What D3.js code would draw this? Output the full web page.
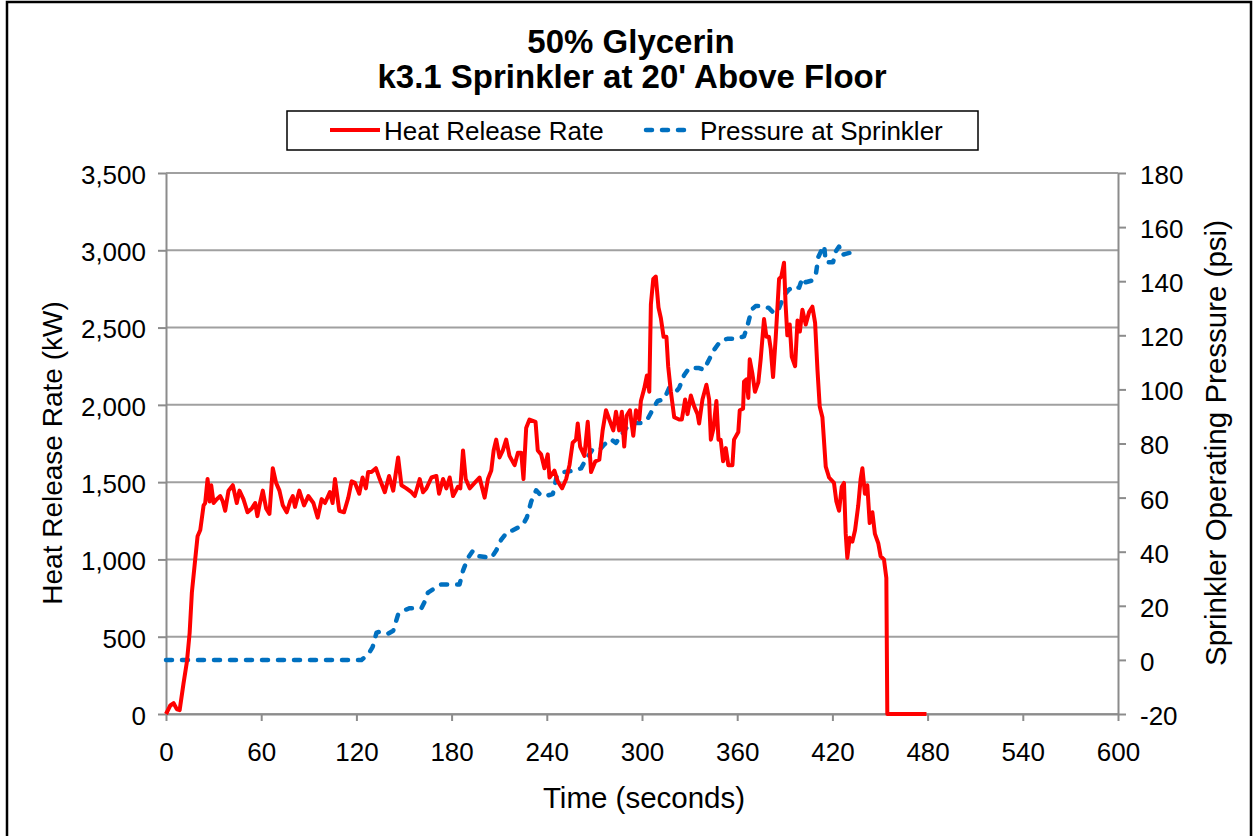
<!DOCTYPE html>
<html>
<head>
<meta charset="utf-8">
<title>50% Glycerin</title>
<script src="https://d3js.org/d3.v7.min.js"></script>
<style>
body {margin:0; background:#fff;}
svg text {font-family:"Liberation Sans", Arial, sans-serif; fill:#000;}
</style>
</head>
<body>
<svg width=1255 height=836></svg>
<script>
// heat release rate (kW) vs time (s)
var hrrTime = [0,2.7,4.8,6.9,8.6,11,13.2,14.9,16.3,18.4,19.9,21.6,23.7,24.7,26.2,27.5,28.5,30,32,34.2,35.8,37.3,39.4,42.1,44.6,46.3,48.8,51.4,54.1,56.2,57.6,58.9,61,63.1,65.2,67.3,69.4,71.5,73.6,76.1,78.2,79.9,81.3,84,87,89.7,92.9,95.6,98.1,100.2,103.3,105,106.5,109.2,112.2,114.9,117,119.1,121.8,123.9,126,127.4,129.5,132.3,134.7,137.9,140.6,143.2,146.3,148.4,151.5,154.7,156.8,159.9,162,164.1,167.3,170.4,172.1,174.6,176.7,178.8,180.9,184,185.5,187.2,188.9,191.4,194.5,197.6,200.8,202.9,205,206.5,208.1,210.2,212.3,214.4,216.5,219.7,221.8,223.9,225.3,227,229.1,232.9,234.3,236.4,238.5,240.6,241.7,244.8,246.9,249.6,252.2,254.3,256.3,258.4,259.5,261,263.7,265.8,267.9,270.6,273.1,275.2,277.3,279.4,281.9,283.6,285.6,287.3,288.8,290.3,292.4,294.5,296.2,298.3,299.3,301.4,303.1,304.6,305.6,307.1,308.7,310.4,311.9,313.6,315.4,316.5,318.2,320.3,323.4,325.1,327.2,328.7,330.8,332.9,335,336,338.1,340.6,342.3,343.4,345,346.9,348.2,349.6,351.1,352.8,354.4,357,358,360.7,361.6,363.7,364.3,365.8,367,367.9,369.6,371.2,373.3,374.8,376.9,378.4,380,381.1,382.6,384.3,386.4,387.8,389.5,390.5,391.6,393.1,394.4,396.5,398,399.5,401.1,403.2,405.3,407.4,409.1,410.6,412,413.7,415.8,417.9,421,422.5,424.2,425.9,427.3,428.4,429.4,430.9,432.6,434.3,436.3,437.8,438.9,440.5,442,443.5,445.2,446.8,448.9,450.4,452.5,454,454.6,479.3]
var hrrValue = [0,55,70,30,25,195,340,525,785,1000,1150,1190,1350,1365,1520,1375,1480,1365,1390,1410,1375,1315,1445,1480,1365,1445,1390,1305,1330,1365,1280,1350,1445,1330,1295,1590,1495,1445,1350,1305,1375,1410,1340,1445,1350,1410,1365,1270,1390,1365,1435,1365,1520,1315,1305,1400,1505,1495,1425,1530,1460,1565,1565,1590,1520,1435,1540,1445,1660,1480,1460,1435,1410,1520,1435,1460,1530,1540,1425,1520,1460,1530,1410,1470,1460,1705,1520,1460,1495,1530,1400,1520,1575,1705,1775,1660,1705,1775,1670,1610,1690,1690,1520,1850,1905,1890,1705,1680,1590,1680,1530,1575,1505,1460,1520,1610,1755,1775,1880,1730,1670,1890,1565,1635,1645,1835,1965,1905,1835,1955,1835,1955,1730,1930,1965,1800,1965,1905,2025,2105,2190,2085,2650,2815,2830,2630,2560,2440,2440,2250,2085,1920,1905,1905,2035,1940,2060,1990,1940,1880,2035,2130,2035,1775,1845,2025,1775,1775,1635,1720,1610,1610,1775,1825,1965,1975,2150,2165,2045,2295,2200,2085,2145,2295,2555,2440,2440,2365,2180,2440,2815,2830,2920,2650,2450,2520,2310,2250,2545,2475,2615,2520,2600,2635,2530,2225,1990,1920,1600,1530,1495,1375,1315,1470,1495,1165,1010,1140,1115,1190,1350,1520,1590,1425,1480,1235,1305,1165,1105,1020,1000,880,0,0]

// sprinkler pressure (psi) vs time (s)
var psiTime = [0,123.2,127.4,130.2,132.7,134.8,140,143.2,146.3,149.4,153.6,161,163,165.1,169.4,173.5,185,187.2,190.3,193.5,196.6,205,208.1,211.3,215.5,218.6,224.9,227.4,230.2,233.3,236.4,240,243.8,246.3,250.1,254.3,261.6,264.7,268.5,273.1,276.2,280.4,283.6,286.7,289.9,294.1,300.4,303.5,306.6,309.8,314,317.1,321.3,323.4,326.5,329.7,336,339.1,341.9,345.4,349.6,353.8,359,364.3,366.4,369.1,371.6,375.8,380,383.2,386.4,389.6,392.7,395.8,399,401.1,403.2,407.4,409.5,411.2,413.3,414.8,415.8,417.9,420.4,422.1,424.2,425.9,428.4,431]
var psiValue = [0,0,2,4.7,10.1,10.4,9.7,10.8,16.8,18.2,19.1,19.1,21.5,24.9,26.5,27.9,27.9,33,37.7,40.4,38.4,37.7,40.4,44.5,47.6,47.9,49.9,52.6,58.6,62.7,60.7,60.7,61.3,68.1,69.4,69.7,70.8,74.2,77.5,77.5,79.6,81.6,80.2,82.9,85.6,87.6,87.6,89,92.4,95.7,96.4,100.5,99.1,100.5,105.2,107.9,107.9,107.2,110.6,114.6,118,118.7,118.7,119.6,123.4,129.5,130.8,130.8,130.1,128.1,130.1,134.9,136.9,138.2,137.6,141.2,139.6,140.3,142.3,149,151.7,153.1,147,147,147,151,152.8,149.7,150.1,150.5]

var timeTicks = [0,60,120,180,240,300,360,420,480,540,600]
var hrrTicks = [0,500,1000,1500,2000,2500,3000,3500]
var psiTicks = [-20,0,20,40,60,80,100,120,140,160,180]
var seriesNames = ['Heat Release Rate','Pressure at Sprinkler']

var plotLeft = 166, plotRight = 1118, plotTop = 173, plotBottom = 714
var red = '#ff0000', blue = '#0070c0'

var x = d3.scaleLinear().domain([0,600]).range([plotLeft,plotRight])
var yL = d3.scaleLinear().domain([0,3500]).range([plotBottom,plotTop])
var yR = d3.scaleLinear().domain([-20,180]).range([plotBottom,plotTop])

var svg = d3.select('svg')

//outer frame
svg.append('rect')
    .attr('x',7).attr('y',2)
    .attr('width',1244).attr('height',850)
    .attr('fill','white')
    .attr('stroke','black')
    .attr('stroke-width',2.5)

//titles
svg.append('text')
    .attr('x',631).attr('y',53)
    .attr('text-anchor','middle')
    .style('font-size','33px').style('font-weight','bold')
    .text('50% Glycerin')
svg.append('text')
    .attr('x',632).attr('y',88)
    .attr('text-anchor','middle')
    .style('font-size','33px').style('font-weight','bold')
    .text("k3.1 Sprinkler at 20' Above Floor")

//gridlines
svg.append('g')
  .selectAll('line')
  .data(hrrTicks)
  .enter()
  .append('line')
    .attr('x1',plotLeft).attr('x2',plotRight)
    .attr('y1',function(d) {return yL(d);})
    .attr('y2',function(d) {return yL(d);})
    .attr('stroke','#a0a0a0')
    .attr('stroke-width',2)

//left axis
var gl = svg.append('g')
    .attr('transform','translate('+plotLeft+',0)')
    .call(d3.axisLeft(yL).tickValues(hrrTicks).tickFormat(d3.format(',')).tickSize(8).tickPadding(12).tickSizeOuter(0))
//right axis (plain hyphen for negatives)
var gr = svg.append('g')
    .attr('transform','translate('+plotRight+',0)')
    .call(d3.axisRight(yR).tickValues(psiTicks).tickFormat(function(d) {return String(d);}).tickSize(8).tickPadding(14).tickSizeOuter(0))
//bottom axis
var gb = svg.append('g')
    .attr('transform','translate(0,'+plotBottom+')')
    .call(d3.axisBottom(x).tickValues(timeTicks).tickSize(7).tickPadding(22).tickSizeOuter(0))

;[gl,gr,gb].forEach(function(g) {
  g.selectAll('path,line').attr('stroke','#8c8c8c').attr('stroke-width',2)
  g.selectAll('text').style('font-size','26px').attr('fill','#000')
})
gl.selectAll('text').attr('dy','0.4em')
gr.selectAll('text').attr('dy','0.4em')

//axis titles
svg.append('text')
    .attr('x',644).attr('y',808)
    .attr('text-anchor','middle')
    .style('font-size','29.5px')
    .text('Time (seconds)')
svg.append('text')
    .attr('transform','translate(62,453) rotate(-90)')
    .attr('text-anchor','middle')
    .style('font-size','28px')
    .text('Heat Release Rate (kW)')
svg.append('text')
    .attr('transform','translate(1226,443) rotate(-90)')
    .attr('text-anchor','middle')
    .style('font-size','29.5px')
    .text('Sprinkler Operating Pressure (psi)')

//data lines
var hrrLine = d3.line()
    .x(function(d,i) {return x(hrrTime[i]);})
    .y(function(d) {return yL(d);})
var psiLine = d3.line()
    .x(function(d,i) {return x(psiTime[i]);})
    .y(function(d) {return yR(d);})

svg.append('path')
    .datum(psiValue)
    .attr('d',psiLine)
    .attr('fill','none')
    .attr('stroke',blue)
    .attr('stroke-width',4.5)
    .attr('stroke-dasharray','6,10')
    .attr('stroke-linecap','round')
    .attr('stroke-linejoin','round')

svg.append('path')
    .datum(hrrValue)
    .attr('d',hrrLine)
    .attr('fill','none')
    .attr('stroke',red)
    .attr('stroke-width',4)
    .attr('stroke-linejoin','round')

//legend
svg.append('rect')
    .attr('x',287).attr('y',111)
    .attr('width',691).attr('height',39)
    .attr('fill','white')
    .attr('stroke','black')
    .attr('stroke-width',1.5)
svg.append('line')
    .attr('x1',330).attr('x2',380)
    .attr('y1',130).attr('y2',130)
    .attr('stroke',red).attr('stroke-width',4)
svg.append('line')
    .attr('x1',646).attr('x2',690)
    .attr('y1',130).attr('y2',130)
    .attr('stroke',blue).attr('stroke-width',4.5)
    .attr('stroke-dasharray','6,10')
    .attr('stroke-linecap','round')
svg.append('text')
    .attr('x',384).attr('y',140)
    .style('font-size','26px')
    .text(seriesNames[0])
svg.append('text')
    .attr('x',700).attr('y',140)
    .style('font-size','26px')
    .text(seriesNames[1])
</script>
</body>
</html>
